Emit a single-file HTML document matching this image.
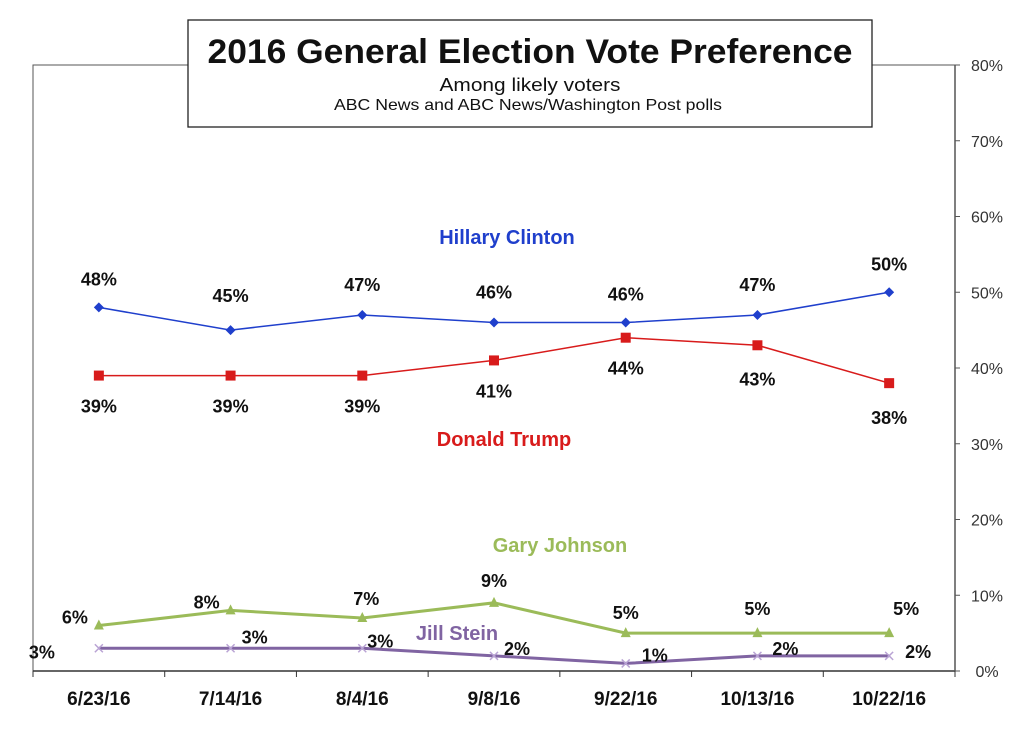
<!DOCTYPE html>
<html><head><meta charset="utf-8"><style>
html,body{margin:0;padding:0;background:#fff;}
svg{display:block;font-family:"Liberation Sans",Arial,sans-serif;}
</style></head><body>
<svg id="chart" width="1024" height="733" viewBox="0 0 1024 733">
<rect x="0" y="0" width="1024" height="733" fill="#fff"/>
<path d="M33,671 L33,65 L955,65" fill="none" stroke="#555" stroke-width="1"/>
<g id="axes"></g>
<g id="series"></g>
<g>
<rect x="188" y="20" width="684" height="107" fill="#fff" stroke="#222" stroke-width="1.3"/>
<text x="530" y="63" text-anchor="middle" font-size="34" font-weight="bold" fill="#111" textLength="645" lengthAdjust="spacingAndGlyphs">2016 General Election Vote Preference</text>
<text x="530" y="91" text-anchor="middle" font-size="18" fill="#111" textLength="181" lengthAdjust="spacingAndGlyphs">Among likely voters</text>
<text x="528" y="110" text-anchor="middle" font-size="16" fill="#111" textLength="388" lengthAdjust="spacingAndGlyphs">ABC News  and ABC News/Washington  Post polls</text>
</g>
</svg>
<script>
const categories = ["6/23/16","7/14/16","8/4/16","9/8/16","9/22/16","10/13/16","10/22/16"];
const clinton = [48,45,47,46,46,47,50];
const trump = [39,39,39,41,44,43,38];
const johnson = [6,8,7,9,5,5,5];
const stein = [3,3,3,2,1,2,2];
const yTicks = [0,10,20,30,40,50,60,70,80];

const NS="http://www.w3.org/2000/svg";
const X0=33,X1=955,Y0=671,Y1=65,YMAX=80;
const band=(X1-X0)/categories.length;
function xs(i){return X0+band*(i+0.5);}
function ys(v){return Y0-(v/YMAX)*(Y0-Y1);}
function mk(tag,attrs,parent,text){const e=document.createElementNS(NS,tag);for(const k in attrs)e.setAttribute(k,attrs[k]);if(text!==undefined)e.textContent=text;parent.appendChild(e);return e;}
const axes=document.getElementById('axes'), ser=document.getElementById('series');

let a=mk('line',{x1:X0,y1:Y0,x2:X1,y2:Y0,stroke:'#333','stroke-width':1.5},axes);


a=mk('line',{x1:X1,y1:Y0,x2:X1,y2:Y1,stroke:'#555','stroke-width':1.5},axes);


yTicks.forEach(t=>{
  const y=ys(t);
  let l=mk('line',{x1:X1,y1:y,x2:X1+5,y2:y,stroke:'#555'},axes);
  
  
  let tx=mk('text',{x:987,y:y+6,'text-anchor':'middle','font-size':16,fill:'#333'},axes,t+'%');
  
  
});
for(let i=0;i<=categories.length;i++){
  const x=X0+band*i;
  let l=mk('line',{x1:x,y1:Y0,x2:x,y2:Y0+6,stroke:'#333'},axes);
  
  
}
categories.forEach((c,i)=>{
  let tx=mk('text',{x:xs(i),y:705,'text-anchor':'middle','font-size':19,'font-weight':'bold',fill:'#111'},axes,c);
  
  
});

function drawSeries(name,vals,color,width,marker,ldx,ldy){
  const g=mk('g',{},ser);
  
  
  const pts=vals.map((v,i)=>xs(i)+','+ys(v)).join(' ');
  const pl=mk('polyline',{points:pts,fill:'none',stroke:color,'stroke-width':width},g);
  
  
  vals.forEach((v,i)=>{
    const x=xs(i),y=ys(v);let m;
    if(marker==='diamond')m=mk('polygon',{points:`${x},${y-5} ${x+5},${y} ${x},${y+5} ${x-5},${y}`,fill:color},g);
    else if(marker==='square')m=mk('rect',{x:x-5,y:y-5,width:10,height:10,fill:color},g);
    else if(marker==='triangle')m=mk('polygon',{points:`${x},${y-6} ${x+5},${y+4} ${x-5},${y+4}`,fill:color},g);
    else m=mk('path',{d:`M${x-4},${y-4}L${x+4},${y+4}M${x-4},${y+4}L${x+4},${y-4}`,stroke:'#b9a3d4','stroke-width':1.5,fill:'none'},g);
    
    
    const t=mk('text',{x:x+ldx[i],y:y+ldy[i],'text-anchor':'middle','font-size':18,'font-weight':'bold',fill:'#111'},g,v+'%');
    
    
  });
}
drawSeries('clinton',clinton,'#1f3fcc',1.5,'diamond',[0,0,0,0,0,0,0],[-22,-28,-24,-24,-22,-24,-22]);
drawSeries('trump',trump,'#d81b1b',1.5,'square',[0,0,0,0,0,0,0],[37,37,37,37,37,40,41]);
drawSeries('johnson',johnson,'#9bbb59',3,'triangle',[-24,-24,4,0,0,0,17],[-2,-2,-13,-16,-14,-18,-18]);
drawSeries('stein',stein,'#8064a2',3,'x',[-57,24,18,23,29,28,29],[10,-5,-1,-1,-2,-1,2]);

function lbl(txt,x,y,color,nm){const t=mk('text',{x:x,y:y,'text-anchor':'middle','font-size':20,'font-weight':'bold',fill:color},ser,txt);

}
lbl('Hillary Clinton',507,244,'#1f3fcc','clinton-name-label');
lbl('Donald Trump',504,446,'#d81b1b','trump-name-label');
lbl('Gary Johnson',560,552,'#9bbb59','johnson-name-label');
lbl('Jill Stein',457,640,'#8064a2','stein-name-label');
</script>
</body></html>
